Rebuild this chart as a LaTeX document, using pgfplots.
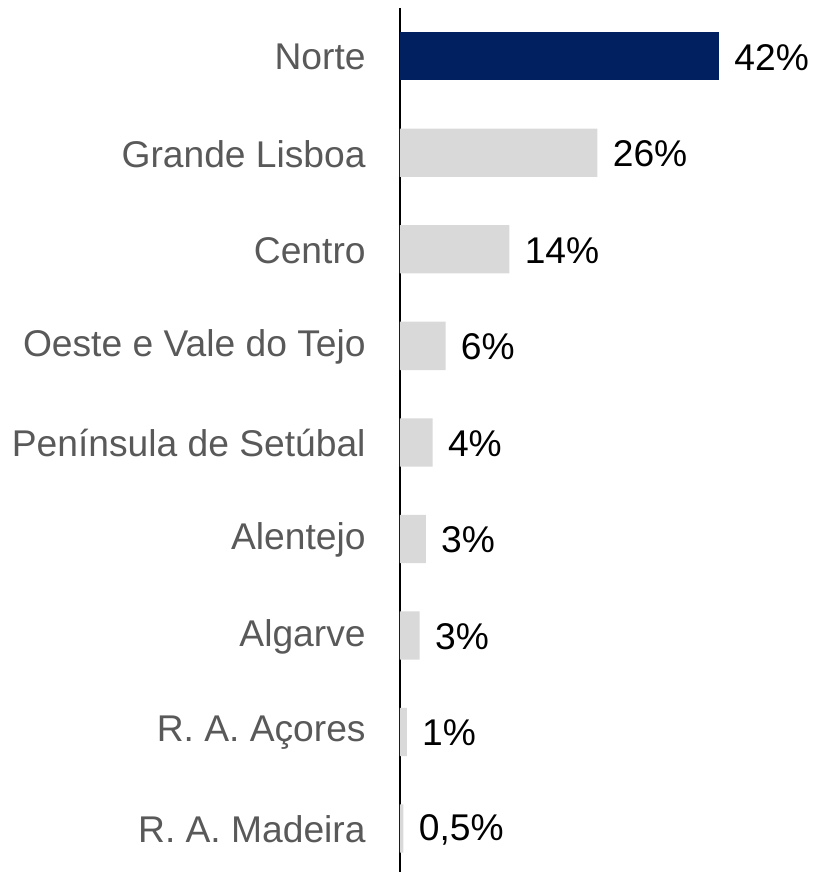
\documentclass[border=0pt]{standalone}
\usepackage{fontspec}
\setmainfont{Liberation Sans}
\usepackage{pgfplots}
\pgfplotsset{compat=1.18}
\definecolor{navy}{HTML}{002060}
\definecolor{lightgray}{HTML}{D9D9D9}
\definecolor{labelgray}{HTML}{595959}
\begin{document}
\begin{tikzpicture}
\path[use as bounding box] (0,0) rectangle (407pt,436pt);
\begin{axis}[
  at={(200pt,0pt)}, anchor=south west,
  scale only axis, width=159.5pt, height=432pt,
  xbar, bar width=0.5, bar shift=0pt,
  xmin=0, xmax=42,
  ymin=-0.5, ymax=8.45, y dir=reverse,
  axis x line=none, axis y line*=left,
  y axis line style={line width=0.75pt, black},
  ytick={0,...,8},
  yticklabels={Norte, Grande Lisboa, Centro, Oeste e Vale do Tejo, Península de Setúbal, Alentejo, Algarve, R. A. Açores, R. A. Madeira},
  major tick length=0pt,
  yticklabel style={font=\fontsize{18.6}{22}\selectfont, text=labelgray, inner sep=0pt, yshift=-0.5pt},
  yticklabel shift=17pt,
  clip=false,
  point meta=explicit symbolic,
  nodes near coords,
  every node near coord/.append style={font=\fontsize{18.6}{22}\selectfont, text=black, anchor=west, inner sep=0pt, xshift=7.5pt, yshift=-0.5pt},
]
\addplot[fill=navy, draw=none] coordinates {(42,0) [42\%]};
\addplot[fill=lightgray, draw=none] coordinates {
 (26,1) [26\%]
 (14.4,2) [14\%]
 (6.0,3) [6\%]
 (4.3,4) [4\%]
 (3.4,5) [3\%]
 (2.6,6) [3\%]
 (0.9,7) [1\%]
 (0.45,8) [0,5\%]
};
\end{axis}
\end{tikzpicture}
\end{document}
